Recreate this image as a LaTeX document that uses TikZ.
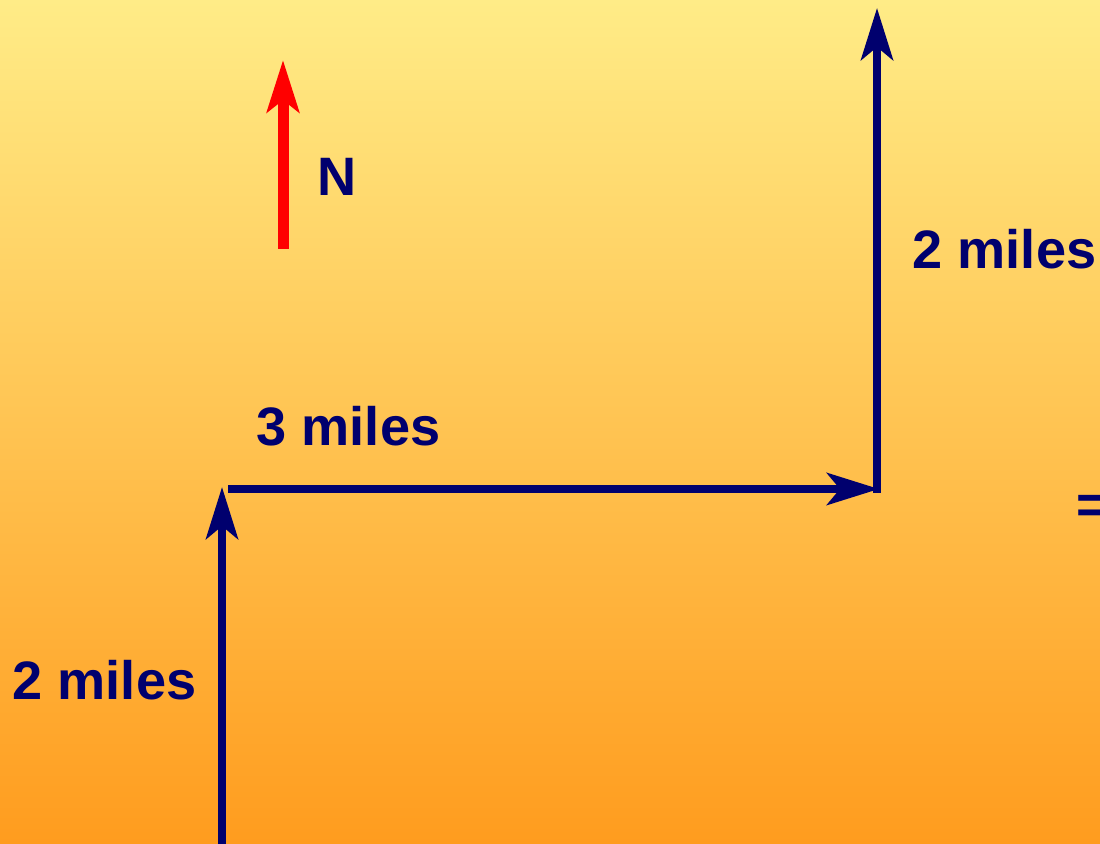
\documentclass[tikz,border=0pt]{standalone}
\usepackage{fontspec}
\setmainfont{Liberation Sans}
\usepackage{tikz}
\usetikzlibrary{arrows.meta, positioning}
\definecolor{mynavy}{RGB}{0,0,110}
\definecolor{myred}{RGB}{255,0,0}
\definecolor{bgtop}{RGB}{255,236,135}
\definecolor{bgmid}{RGB}{255,192,82}
\definecolor{bgbot}{RGB}{255,156,30}
\tikzset{
  leg/.style={line width=0.08cm, color=mynavy,
    -{Stealth[length=0.52cm, width=0.32cm, inset=0.13cm]}},
  north/.style={line width=0.11cm, color=myred,
    -{Stealth[length=0.52cm, width=0.32cm, inset=0.12cm]}},
  lbl/.style={inner sep=0pt, anchor=base west, text=mynavy,
    font=\fontsize{15.4pt}{18pt}\selectfont\bfseries}
}
\begin{document}
\begin{tikzpicture}
  % Background
  \useasboundingbox (0,0) rectangle (11,8.44);
  \shade[top color=bgtop, middle color=bgmid, bottom color=bgbot] (0,0) rectangle (11,8.44);

  % Corners of the walk
  \coordinate (start) at (2.22,0);
  \coordinate (c1) at (2.22,3.57);
  \coordinate (h0) at (2.28,3.55);
  \coordinate (c2) at (8.79,3.55);
  \coordinate (v0) at (8.77,3.51);
  \coordinate (finish) at (8.77,8.36);

  % Legs
  \draw[leg] (start) -- (c1);
  \draw[leg] (h0) -- (c2);
  \draw[leg] (v0) -- (finish);

  % North arrow
  \coordinate (n0) at (2.83,5.95);
  \coordinate (n1) at (2.83,7.84);
  \draw[north] (n0) -- (n1);
  \node[lbl] (nlabel) at (3.17,6.48) {N};

  % Leg labels
  \node[lbl] (leg1) at (0.12,1.44) {2 miles};
  \node[lbl] (leg2) at (2.56,3.985) {3 miles};
  \node[lbl] (leg3) at (9.12,1.755+4) {2 miles};
  \node[lbl] (eq) at (10.76,3.20) {=};
\end{tikzpicture}
\end{document}
